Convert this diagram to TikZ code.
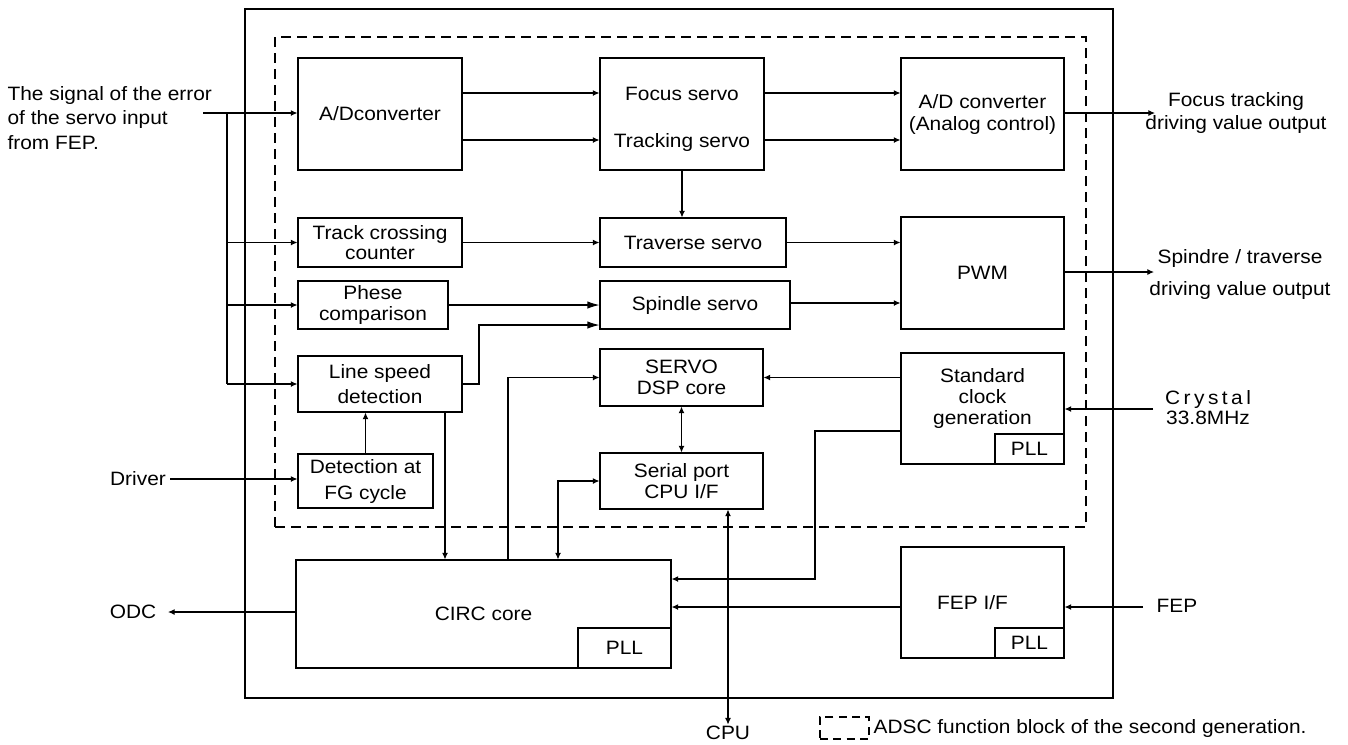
\documentclass[tikz,border=0pt]{standalone}
\usepackage{fontspec}
\setmainfont{Liberation Sans}[FakeStretch=1.08]
\usetikzlibrary{arrows.meta,fit,calc}
\newcommand\lsp{\kern2.6pt}
\begin{document}
\begin{tikzpicture}[x=0.75pt,y=-0.75pt,
  >={Latex[length=5pt,width=4.5pt]},
  box/.style={draw, line width=0.8pt, inner sep=0pt, align=center, font=\fontsize{14.5}{15.5}\selectfont},
  bx/.style n args={4}{box, minimum width={(#3-(#1))*0.75pt}, minimum height={(#4-(#2))*0.75pt}, at={({(#1+#3)/2},{(#2+#4)/2})}},
  lbl/.style={inner sep=1pt, align=center, font=\fontsize{14.5}{17}\selectfont},
  con/.style={line width=0.8pt},
  big/.style={-{Latex[length=9pt,width=5.5pt]}},
]
\useasboundingbox (0,0) rectangle (1348,744);
% frames
\node[draw, line width=2.2pt, inner sep=0pt, fit={(245,9)(1113,698)}] (chip) {};
\node[draw, dash pattern=on 7.5pt off 4.5pt, line width=1.6pt, inner sep=0pt, fit={(275,37)(1086,527)}] (adsc) {};
% blocks
\node[bx={298}{58}{462}{170}] (adc) {A/Dconverter};
\node[bx={600}{58}{764}{170}, text height=53.5pt] (fts) {Focus servo\\[20pt]Tracking servo};
\node[bx={901}{58}{1064}{170}] (ada) {A/D converter\\[1pt](Analog control)};
\node[bx={298}{218}{462}{267}] (tcc) {Track crossing\\counter};
\node[bx={600}{218}{786}{267}] (trs) {Traverse servo};
\node[bx={901}{217}{1064}{329}] (pwm) {PWM};
\node[bx={298}{281}{448}{329}] (phc) {Phese\\comparison};
\node[bx={600}{281}{790}{329}] (sps) {Spindle servo};
\node[bx={298}{356}{462}{412}] (lsd) {Line speed\\[3pt]detection};
\node[bx={298}{454}{433}{508}] (fg) {Detection at\\[4pt]FG cycle};
\node[bx={600}{349}{763}{406}] (dsp) {SERVO\\DSP core};
\node[bx={600}{453}{763}{509}] (spc) {Serial port\\CPU I/F};
\node[bx={901}{353}{1064}{464}, text depth=18pt] (scg) {Standard\\clock\\generation};
\node[bx={995}{434}{1064}{464}] (scgpll) {PLL};
\node[bx={296}{560}{671}{668}] (circ) {CIRC core};
\node[bx={578}{628}{671}{668}] (circpll) {PLL};
\node[bx={901}{547}{1064}{658}] (fep) {FEP I/F\kern15pt};
\node[bx={995}{628}{1064}{658}] (feppll) {PLL};
% labels
\node[lbl, align=left, anchor=west, font=\fontsize{14.5}{18.4}\selectfont] (sig) at (6,118) {The signal of the error\\of the servo input\\from FEP.};
\node[lbl] (ftout) at (1236,113) {Focus tracking\\driving value output};
\node[lbl, font=\fontsize{14.5}{24}\selectfont] (stout) at (1240,274) {Spindre / traverse\\driving value output};
\node[lbl, font=\fontsize{14.5}{15}\selectfont] (xtal) at (1208,408) {C\lsp r\lsp y\lsp s\lsp t\lsp a\lsp l\\33.8MHz};
\node[lbl, anchor=west] (fepin) at (1155,606) {FEP};
\node[lbl] (driver) at (138,479) {Driver};
\node[lbl] (odc) at (133,612) {ODC};
\node[lbl] (cpu) at (728,733) {CPU};
\node[draw, dash pattern=on 6pt off 4pt, line width=1.5pt, inner sep=0pt, fit={(820,717)(869,739)}] (leg) {};
\node[lbl, anchor=west] (legtxt) at (872,728) {ADSC function block of the second generation.};
% helper coordinates
\coordinate (sigend) at (203,113);
\coordinate (bus) at (227,113);
\coordinate (r1) at (0,93);
\coordinate (r2) at (0,140);
\coordinate (r3) at (0,303);
\coordinate (r4) at (0,579);
\coordinate (r5) at (0,607);
\coordinate (ftend) at (1155,113);
\coordinate (stend) at (1154,272);
\coordinate (j1) at (479,325);
\coordinate (j2) at (445,0);
\coordinate (j3) at (508,0);
\coordinate (j4) at (558,0);
\coordinate (j5) at (728,0);
\coordinate (j6) at (815,431);
\coordinate (fepend) at (1143,607);
\coordinate (xtalend) at (1153,409);
\coordinate (odcend) at (168,612);
\coordinate (drvstart) at (170,479);
% connectors
\draw[con,->] (sigend) -- (adc.west |- sigend);
\draw[con] (bus) -- (bus |- lsd.west);
\draw[con,->] (bus |- tcc.west) -- (tcc.west);
\draw[con,->] (bus |- phc.west) -- (phc.west);
\draw[con,->] (bus |- lsd.west) -- (lsd.west);
\draw[con,->] (adc.east |- r1) -- (fts.west |- r1);
\draw[con,->] (adc.east |- r2) -- (fts.west |- r2);
\draw[con,->] (fts.east |- r1) -- (ada.west |- r1);
\draw[con,->] (fts.east |- r2) -- (ada.west |- r2);
\draw[con,->] (ada.east |- ftend) -- (ftend);
\draw[con,->] (fts.south) -- (fts.south |- trs.north);
\draw[con,->] (tcc.east) -- (trs.west);
\draw[con,->] (trs.east) -- (trs.east -| pwm.west);
\draw[con,big] (phc.east) -- (phc.east -| sps.west);
\draw[con,big] (lsd.east) -| (j1) -- (j1 -| sps.west);
\draw[con,->] (sps.east |- r3) -- (pwm.west |- r3);
\draw[con,->] (pwm.east |- stend) -- (stend);
\draw[con,->] (fg.north) -- (fg.north |- lsd.south);
\draw[con,->] (lsd.south -| j2) -- (circ.north -| j2);
\draw[con,->] (circ.north -| j3) |- (dsp.west);
\draw[con,<->] (circ.north -| j4) |- (spc.west);
\draw[con,<->] (dsp.south) -- (spc.north);
\draw[con,<->] (spc.south -| j5) -- (cpu.north);
\draw[con,->] (scg.west |- dsp.east) -- (dsp.east);
\draw[con,->] (scg.west |- j6) -- (j6) |- (circ.east |- r4);
\draw[con,->] (fep.west |- r5) -- (circ.east |- r5);
\draw[con,->] (fepend) -- (fep.east |- fepend);
\draw[con,->] (xtalend) -- (scg.east |- xtalend);
\draw[con,->] (circ.west |- odcend) -- (odcend);
\draw[con,->] (drvstart) -- (fg.west |- drvstart);
\end{tikzpicture}
\end{document}
